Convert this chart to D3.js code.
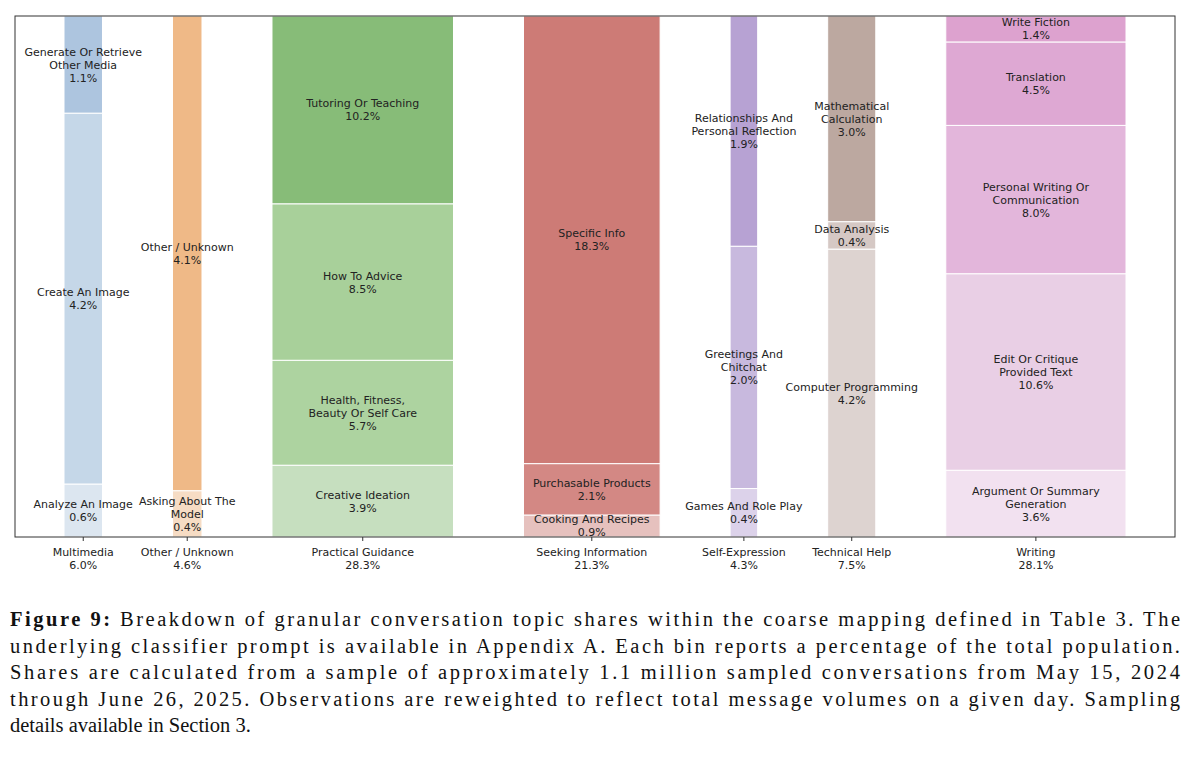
<!DOCTYPE html>
<html><head><meta charset="utf-8">
<script src="https://cdn.jsdelivr.net/npm/d3@7"></script>
<style>body{margin:0;background:#fff}</style>
</head><body>
<svg id="chart" width="1196" height="761"></svg>
<script>
const categories = ['Multimedia', 'Other / Unknown', 'Practical Guidance', 'Seeking Information', 'Self-Expression', 'Technical Help', 'Writing'];
const categoryShares = [6.0, 4.6, 28.3, 21.3, 4.3, 7.5, 28.1];
// segments bottom to top, label lines split by '|'
const topicLabels = [
  ['Analyze An Image', 'Create An Image', 'Generate Or Retrieve|Other Media'],
  ['Asking About The|Model', 'Other / Unknown'],
  ['Creative Ideation', 'Health, Fitness,|Beauty Or Self Care', 'How To Advice', 'Tutoring Or Teaching'],
  ['Cooking And Recipes', 'Purchasable Products', 'Specific Info'],
  ['Games And Role Play', 'Greetings And|Chitchat', 'Relationships And|Personal Reflection'],
  ['Computer Programming', 'Data Analysis', 'Mathematical|Calculation'],
  ['Argument Or Summary|Generation', 'Edit Or Critique|Provided Text', 'Personal Writing Or|Communication', 'Translation', 'Write Fiction']
];
const topicShares = [
  [0.6, 4.2, 1.1],
  [0.4, 4.1],
  [3.9, 5.7, 8.5, 10.2],
  [0.9, 2.1, 18.3],
  [0.4, 2.0, 1.9],
  [4.2, 0.4, 3.0],
  [3.6, 10.6, 8.0, 4.5, 1.4]
];
const topicColors = [
  ['#dce6f0', '#c5d7e8', '#adc5df'],
  ['#f6dcc4', '#efb987'],
  ['#c6dfbf', '#add3a0', '#a8d09a', '#87bc78'],
  ['#e6c1be', '#d38884', '#cd7b76'],
  ['#dcd2ea', '#c8b9de', '#b7a2d3'],
  ['#ddd3d0', '#d5c8c4', '#bca8a0'],
  ['#f2e1f0', '#e9cfe5', '#e3b6db', '#dea8d3', '#dda2cf']
];

const svg = d3.select('#chart');
const plotL = 15, plotR = 1175, plotT = 16, plotB = 537;
const pad = 49, gap = 70;
const totalW = (plotR - plotL) - 2 * pad - gap * (categories.length - 1);
const sumShares = d3.sum(categoryShares);
const wScale = d3.scaleLinear().domain([0, sumShares]).range([0, totalW]);

let xs = [], cx = plotL + pad;
categoryShares.forEach(s => { xs.push(cx); cx += wScale(s) + gap; });

const font = 'DejaVu Sans, sans-serif';

categories.forEach((cat, i) => {
  const g = svg.append('g');
  const w = wScale(categoryShares[i]);
  const y = d3.scaleLinear().domain([0, d3.sum(topicShares[i])]).range([plotB, plotT]);
  let acc = 0;
  topicShares[i].forEach((v, j) => {
    const y0 = y(acc), y1 = y(acc + v);
    g.append('rect').attr('x', xs[i]).attr('y', y1).attr('width', w).attr('height', y0 - y1)
      .attr('fill', topicColors[i][j]).attr('stroke', '#fff').attr('stroke-width', 1);
    acc += v;
  });
  acc = 0;
  topicShares[i].forEach((v, j) => {
    const mid = (y(acc) + y(acc + v)) / 2;
    const lines = topicLabels[i][j].split('|').concat([v.toFixed(1) + '%']);
    const t = g.append('text').attr('x', xs[i] + w / 2).attr('text-anchor', 'middle')
      .attr('font-family', font).attr('font-size', 11).attr('fill', '#222');
    const y0 = mid - (lines.length - 1) * 13 / 2 + 4;
    lines.forEach((l, k) => t.append('tspan').attr('x', xs[i] + w / 2).attr('y', y0 + k * 13).text(l));
    acc += v;
  });
  // category tick + label
  svg.append('line').attr('x1', xs[i] + w / 2).attr('x2', xs[i] + w / 2).attr('y1', plotB).attr('y2', plotB + 4)
    .attr('stroke', '#333');
  const t = svg.append('text').attr('text-anchor', 'middle').attr('font-family', font).attr('font-size', 11).attr('fill', '#222');
  [cat, categoryShares[i].toFixed(1) + '%'].forEach((l, k) =>
    t.append('tspan').attr('x', xs[i] + w / 2).attr('y', 556 + k * 13).text(l));
});

svg.append('rect').attr('x', plotL).attr('y', plotT).attr('width', plotR - plotL).attr('height', plotB - plotT)
  .attr('fill', 'none').attr('stroke', '#333').attr('stroke-width', 1);

const caption = [
  ['Figure 9:', ' Breakdown of granular conversation topic shares within the coarse mapping defined in Table 3. The'],
  ['', 'underlying classifier prompt is available in Appendix A. Each bin reports a percentage of the total population.'],
  ['', 'Shares are calculated from a sample of approximately 1.1 million sampled conversations from May 15, 2024'],
  ['', 'through June 26, 2025. Observations are reweighted to reflect total message volumes on a given day. Sampling'],
  ['', 'details available in Section 3.']
];
caption.forEach((c, i) => {
  const t = svg.append('text').attr('x', 10).attr('y', 626 + i * 26.5)
    .attr('font-family', 'Liberation Serif, DejaVu Serif, serif').attr('font-size', 20.5).attr('fill', '#111');
  if (i < 4) t.attr('textLength', 1170).attr('lengthAdjust', 'spacing');
  if (c[0]) t.append('tspan').attr('font-weight', 'bold').text(c[0]);
  t.append('tspan').text(c[1]);
});
</script>
</body></html>
